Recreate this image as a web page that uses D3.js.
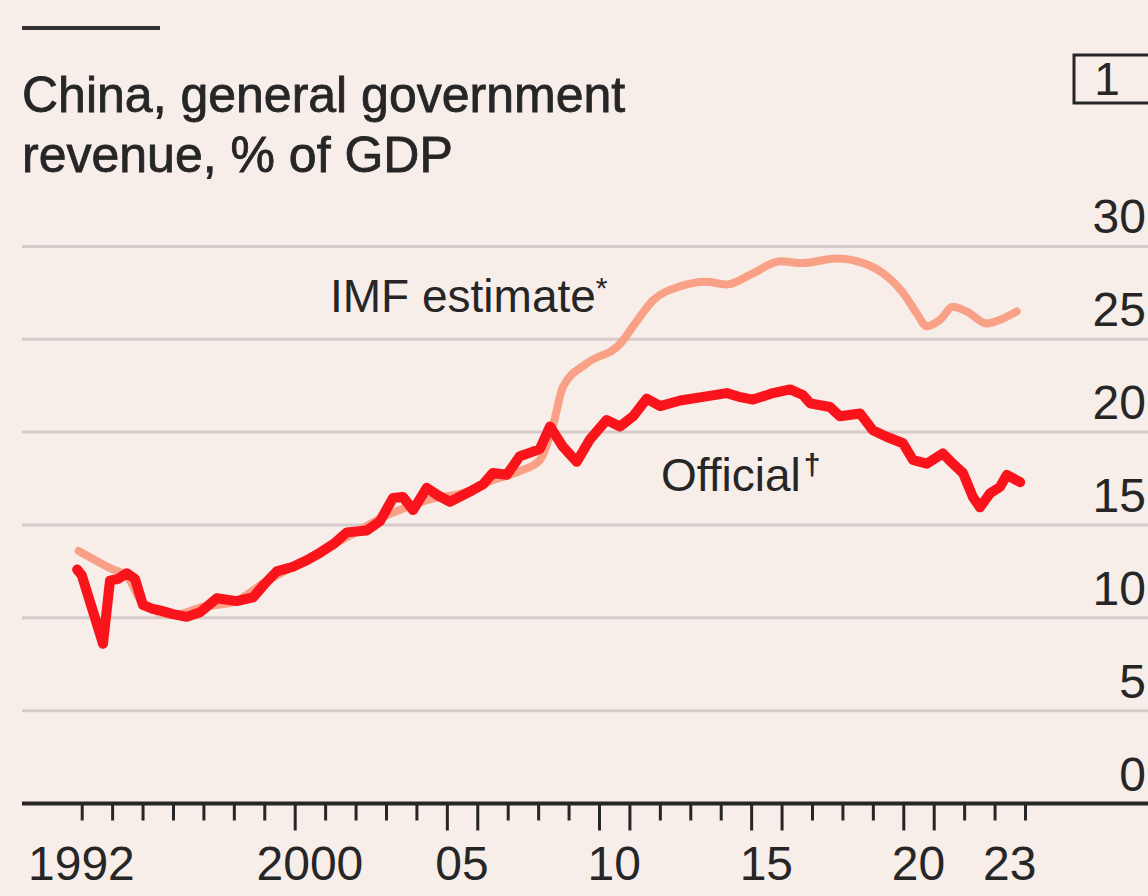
<!DOCTYPE html>
<html>
<head>
<meta charset="utf-8">
<script src="https://cdn.jsdelivr.net/npm/d3@7"></script>
<style>
  html, body { margin: 0; padding: 0; background: #f7ede9; }
  svg { display: block; }
  text { font-family: "Liberation Sans", Arial, sans-serif; fill: #262626; }
</style>
</head>
<body>
<svg id="chart" width="1148" height="896"></svg>
<script>
// ---- data ----
const titleLines = ["China, general government", "revenue, % of GDP"];
const chartNumber = "1";

// Official series: [decimal year, % of GDP]
const officialYears = [1992.85, 1993.0, 1993.7, 1993.93, 1994.2, 1994.48, 1994.75, 1995.01, 1995.3, 1995.57, 1996.0, 1996.45, 1996.89, 1997.44, 1998.09, 1998.63, 1999.0, 1999.41, 1999.94, 2000.4, 2000.83, 2001.3, 2001.71, 2002.37, 2002.8, 2003.23, 2003.56, 2003.89, 2004.34, 2004.7, 2005.1, 2005.76, 2006.2, 2006.51, 2006.97, 2007.4, 2007.83, 2008.06, 2008.39, 2008.82, 2009.27, 2009.7, 2010.25, 2010.69, 2011.12, 2011.57, 2012.01, 2012.67, 2013.42, 2014.2, 2014.6, 2015.06, 2015.72, 2016.28, 2016.7, 2016.94, 2017.59, 2017.92, 2018.58, 2019.0, 2019.45, 2019.99, 2020.32, 2020.77, 2021.3, 2021.63, 2021.96, 2022.29, 2022.52, 2022.85, 2023.18, 2023.4, 2023.73, 2023.84];
const officialValues = [12.6, 12.3, 8.6, 12.0, 12.1, 12.4, 12.1, 10.7, 10.5, 10.4, 10.2, 10.05, 10.3, 11.05, 10.9, 11.1, 11.8, 12.5, 12.75, 13.1, 13.5, 14.0, 14.6, 14.7, 15.2, 16.45, 16.5, 15.8, 17.0, 16.6, 16.25, 16.8, 17.2, 17.8, 17.7, 18.7, 18.95, 19.1, 20.3, 19.2, 18.4, 19.6, 20.65, 20.3, 20.85, 21.8, 21.4, 21.7, 21.9, 22.1, 21.9, 21.75, 22.1, 22.3, 22.0, 21.55, 21.35, 20.85, 21.0, 20.1, 19.75, 19.4, 18.5, 18.3, 18.85, 18.3, 17.8, 16.5, 15.95, 16.7, 17.05, 17.7, 17.4, 17.3];

// IMF estimate series
const imfYears = [1992.9, 1993.9, 1994.5, 1995.0, 1996.0, 1997.0, 1998.0, 1999.0, 2000.0, 2001.0, 2002.0, 2003.0, 2003.6, 2004.5, 2005.5, 2006.5, 2007.4, 2008.06, 2008.48, 2008.82, 2009.6, 2010.72, 2011.12, 2011.78, 2012.67, 2013.54, 2014.2, 2015.06, 2015.95, 2016.7, 2017.81, 2018.68, 2019.34, 2019.99, 2020.44, 2020.77, 2021.21, 2021.63, 2022.08, 2022.74, 2023.18, 2023.73];
const imfValues = [13.6, 12.7, 12.2, 10.8, 10.15, 10.6, 10.85, 11.9, 12.8, 13.7, 14.6, 15.5, 15.9, 16.4, 16.7, 17.4, 17.9, 18.5, 20.3, 22.45, 23.7, 24.8, 25.7, 27.1, 27.85, 28.1, 27.95, 28.55, 29.2, 29.1, 29.35, 29.1, 28.55, 27.5, 26.4, 25.7, 26.05, 26.75, 26.5, 25.85, 26.05, 26.5];

const yTicks = [0, 5, 10, 15, 20, 25, 30];
const xTickYears = d3.range(1993, 2025);          // year boundaries
const longTickYears = [2000, 2005, 2006, 2010, 2011, 2015, 2016, 2020, 2021];
const xLabelYears = [1992, 2000, 2005, 2010, 2015, 2020, 2023];
const xLabelText = ["1992", "2000", "05", "10", "15", "20", "23"];
const seriesLabels = [
  { name: "IMF estimate", mark: "*" },
  { name: "Official", mark: "\u2020" }
];

// ---- layout ----
const plotLeft = 22, plotRight = 1148;
const svg = d3.select("#chart");

const x = d3.scaleLinear().domain([1993, 2024]).range([81.7, 1025]);
const y = d3.scaleLinear().domain([0, 30]).range([803.5, 246.4]);

// top rule
svg.append("line").attr("x1", 22).attr("x2", 160).attr("y1", 28).attr("y2", 28)
  .attr("stroke", "#333").attr("stroke-width", 4);

// title
svg.selectAll("text.title").data(titleLines).join("text").attr("class", "title")
  .attr("x", 22).attr("y", (d, i) => 112 + i * 60).attr("font-size", 50)
  .attr("stroke", "#262626").attr("stroke-width", 0.8)
  .text(d => d);

// chart number box
svg.append("rect").attr("x", 1074).attr("y", 55).attr("width", 90).attr("height", 48)
  .attr("fill", "none").attr("stroke", "#262626").attr("stroke-width", 3);
svg.append("text").attr("x", 1107).attr("y", 95).attr("text-anchor", "middle")
  .attr("font-family", "Liberation Serif, serif").attr("font-size", 46).text(chartNumber);

// gridlines
svg.append("g").selectAll("line").data(yTicks.filter(d => d > 0)).join("line")
  .attr("x1", plotLeft).attr("x2", plotRight)
  .attr("y1", d => y(d)).attr("y2", d => y(d))
  .attr("stroke", "#d6cbca").attr("stroke-width", 3);

// y labels
svg.append("g").selectAll("text").data(yTicks).join("text")
  .attr("x", 1146).attr("y", d => y(d) - 13)
  .attr("text-anchor", "end").attr("font-size", 48)
  .text(d => d);

// lines
const imfData = imfYears.map((t, i) => [t, imfValues[i]]);
const offData = officialYears.map((t, i) => [t, officialValues[i]]);

svg.append("path").datum(imfData)
  .attr("d", d3.line().x(d => x(d[0])).y(d => y(d[1])).curve(d3.curveMonotoneX))
  .attr("fill", "none").attr("stroke", "#f9a186").attr("stroke-width", 8)
  .attr("stroke-linejoin", "round").attr("stroke-linecap", "round");
svg.append("path").datum(offData)
  .attr("d", d3.line().x(d => x(d[0])).y(d => y(d[1])).curve(d3.curveLinear))
  .attr("fill", "none").attr("stroke", "#f8141a").attr("stroke-width", 10)
  .attr("stroke-linejoin", "round").attr("stroke-linecap", "round");

// x axis
const xAxis = d3.axisBottom(x).tickValues(xTickYears).tickFormat("").tickSizeOuter(0);
const axG = svg.append("g").attr("transform", `translate(0,${y(0)})`).call(xAxis);
axG.select(".domain").remove();
axG.selectAll(".tick line")
  .attr("stroke", "#262626").attr("stroke-width", 3)
  .attr("y2", d => longTickYears.includes(d) ? 27 : 17);
svg.append("line").attr("x1", plotLeft).attr("x2", plotRight)
  .attr("y1", y(0)).attr("y2", y(0)).attr("stroke", "#262626").attr("stroke-width", 4);

svg.append("g").selectAll("text").data(xLabelYears).join("text")
  .attr("x", (d, i) => i === 0 ? plotLeft + 6 : x(d + 0.5))
  .attr("text-anchor", (d, i) => i === 0 ? "start" : "middle")
  .attr("y", 880).attr("font-size", 48)
  .text((d, i) => xLabelText[i]);

// series labels
const imfLab = svg.append("text").attr("x", 330).attr("y", 312).attr("font-size", 46);
imfLab.append("tspan").text(seriesLabels[0].name);
imfLab.append("tspan").attr("font-size", 30).attr("dy", -14).text(seriesLabels[0].mark);

const offLab = svg.append("text").attr("x", 661).attr("y", 491).attr("font-size", 46);
offLab.append("tspan").text(seriesLabels[1].name);
offLab.append("tspan").attr("font-size", 30).attr("font-weight", "bold").attr("dx", 3).attr("dy", -16).text(seriesLabels[1].mark);
</script>
</body>
</html>
